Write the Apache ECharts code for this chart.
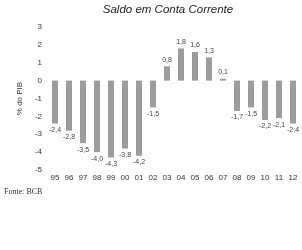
<!DOCTYPE html>
<html>
<head>
<meta charset="utf-8">
<script src="https://cdn.jsdelivr.net/npm/echarts@6/dist/echarts.min.js"></script>
<style>
  html, body { margin: 0; padding: 0; background: #fff; }
  #chart { width: 302px; height: 250px; }
</style>
</head>
<body>
<div id="chart"></div>
<script>
const years = ['95', '96', '97', '98', '99', '00', '01', '02', '03', '04', '05', '06', '07', '08', '09', '10', '11', '12']
const saldo = [-2.4, -2.8, -3.5, -4.0, -4.3, -3.8, -4.2, -1.5, 0.8, 1.8, 1.6, 1.3, 0.1, -1.7, -1.5, -2.2, -2.1, -2.4]

const chart = echarts.init(document.getElementById('chart'))

chart.setOption({
  animation: false,
  title: {
    text: 'Saldo em Conta Corrente',
    left: 163,
    top: -1,
    textAlign: 'center',
    textStyle: { fontSize: 11.5, fontStyle: 'italic', fontWeight: 'normal', color: '#222', fontFamily: 'Liberation Sans' }
  },
  graphic: [{
    type: 'text',
    left: 4,
    top: 188,
    style: { text: 'Fonte: BCB', font: '8px "Liberation Serif"', fill: '#333' }
  }],
  grid: { left: 48, right: 2, top: 27, bottom: 80 },
  xAxis: {
    type: 'category',
    data: years,
    axisLine: { show: false },
    axisTick: { show: false },
    axisLabel: { color: '#333', fontSize: 8, margin: 4, fontFamily: 'Liberation Sans', interval: 0 }
  },
  yAxis: {
    type: 'value',
    min: -5,
    max: 3,
    interval: 1,
    name: '% do PIB',
    nameLocation: 'middle',
    nameGap: 24,
    nameTextStyle: { color: '#333', fontSize: 8, fontFamily: 'Liberation Sans' },
    axisLine: { show: false },
    axisTick: { show: false },
    splitLine: { show: false },
    axisLabel: { color: '#333', fontSize: 8, margin: 6, fontFamily: 'Liberation Sans' }
  },
  series: [{
    type: 'bar',
    barWidth: 6,
    itemStyle: { color: '#9c9c9c' },
    label: {
      show: true,
      fontSize: 7,
      color: '#444',
      fontFamily: 'Liberation Sans',
      distance: 3,
      formatter: p => p.value.toFixed(1).replace('.', ',')
    },
    // labels above positive bars, below negative ones
    data: saldo.map(v => ({
      value: v,
      label: { position: v >= 0 ? 'top' : 'bottom' }
    }))
  }]
})
</script>
</body>
</html>
